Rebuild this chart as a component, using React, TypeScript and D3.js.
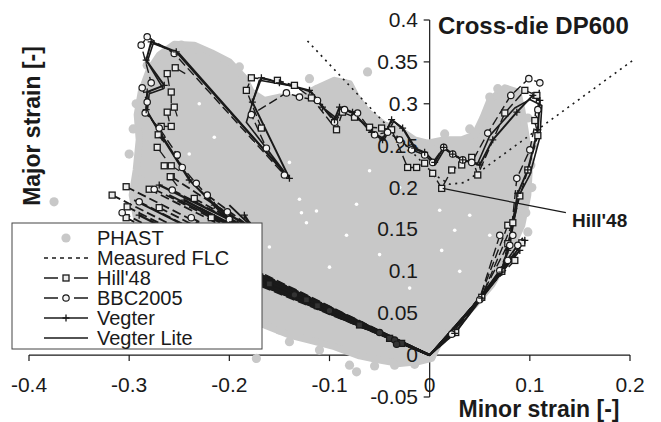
import React from "react";
import * as d3 from "d3";

type P = [number, number];

const W = 661;
const H = 422;

const xTicks = [-0.4, -0.3, -0.2, -0.1, 0, 0.1, 0.2];
const xTickLabels = ["-0.4", "-0.3", "-0.2", "-0.1", "0", "0.1", "0.2"];
const yTicks = [-0.05, 0, 0.05, 0.1, 0.15, 0.2, 0.25, 0.3, 0.35, 0.4];
const yTickLabels = ["-0.05", "0", "0.05", "0.1", "0.15", "0.2", "0.25", "0.3", "0.35", "0.4"];

// PHAST simulated strains: dense cloud outline + isolated points + small gaps inside
const phastOutline: P[] = [
  [-0.28, 0.34], [-0.27, 0.358], [-0.255, 0.371], [-0.235, 0.37], [-0.218, 0.361], [-0.2, 0.35],
  [-0.185, 0.331], [-0.178, 0.314], [-0.165, 0.304], [-0.15, 0.308], [-0.13, 0.307], [-0.112, 0.319],
  [-0.095, 0.328], [-0.08, 0.324], [-0.073, 0.308], [-0.062, 0.29], [-0.045, 0.275], [-0.03, 0.269],
  [-0.015, 0.257], [-0.002, 0.253], [0.015, 0.257], [0.032, 0.257], [0.045, 0.263], [0.053, 0.283],
  [0.06, 0.304], [0.075, 0.319], [0.088, 0.314], [0.092, 0.293], [0.096, 0.263], [0.1, 0.233],
  [0.098, 0.191], [0.092, 0.155], [0.085, 0.137], [0.075, 0.111], [0.062, 0.084], [0.045, 0.06],
  [0.025, 0.036], [0.01, 0.016], [0.002, -0.004], [-0.012, -0.008], [-0.03, -0.01], [-0.05, -0.006],
  [-0.07, -0.001], [-0.095, 0.01], [-0.12, 0.018], [-0.14, 0.024], [-0.165, 0.036], [-0.19, 0.044],
  [-0.23, 0.066], [-0.27, 0.101], [-0.29, 0.137], [-0.292, 0.159], [-0.297, 0.191], [-0.293, 0.221],
  [-0.29, 0.257], [-0.292, 0.287], [-0.288, 0.314],
];
const phastPoints: P[] = [
  [-0.375, 0.183], [-0.248, 0.37], [-0.23, 0.364], [-0.192, 0.338], [-0.107, 0.319], [-0.085, 0.324],
  [0.06, 0.308], [0.098, 0.283], [0.101, 0.227], [0.098, 0.147], [-0.173, -0.004], [-0.14, 0.016],
  [-0.11, 0.006], [-0.08, -0.012], [-0.073, -0.02], [-0.055, -0.013], [-0.035, -0.012], [-0.015, -0.011],
  [-0.288, 0.209], [-0.295, 0.191], [-0.282, 0.346], [-0.165, 0.042], [-0.15, 0.03],
  [-0.062, 0.338], [-0.12, 0.33], [0.068, 0.318], [0.103, 0.25], [0.102, 0.2], [0.096, 0.17],
  [-0.3, 0.24], [-0.296, 0.27], [-0.293, 0.3], [-0.19, 0.344], [0.04, 0.27], [0.015, 0.264],
];
const phastGaps: P[] = [
  [-0.128, 0.17], [-0.123, 0.158], [-0.083, 0.143], [-0.1, 0.105], [-0.16, 0.129], [-0.13, 0.186],
  [-0.113, 0.172], [-0.073, 0.18], [0.01, 0.173], [0.012, 0.125], [0.025, 0.149], [0.04, 0.167],
  [0.06, 0.143], [-0.23, 0.3], [-0.2, 0.29], [-0.215, 0.26], [-0.175, 0.255], [-0.06, 0.22],
  [-0.03, 0.2], [-0.05, 0.12], [-0.02, 0.08], [0.03, 0.1], [-0.14, 0.23], [-0.24, 0.24],
];

const measuredFLC: P[] = [
  [-0.122, 0.375], [-0.023, 0.249], [0.005, 0.215], [0.02, 0.204], [0.035, 0.206], [0.203, 0.352],
];

// Main limit-strain curves (upper zig-zag + right strain path to origin)
const hillCurve: P[] = [
  [-0.168, 0.271], [-0.183, 0.316], [-0.178, 0.331], [-0.152, 0.328], [-0.135, 0.322], [-0.118, 0.307],
  [-0.093, 0.269], [-0.087, 0.29], [-0.075, 0.284], [-0.06, 0.272], [-0.048, 0.271], [-0.038, 0.269],
  [-0.022, 0.224], [-0.013, 0.224], [-0.005, 0.229], [0.003, 0.217], [0.012, 0.199], [0.022, 0.221],
  [0.032, 0.227], [0.042, 0.236], [0.048, 0.215], [0.075, 0.289], [0.095, 0.316], [0.107, 0.31],
  [0.105, 0.28], [0.108, 0.262], [0.098, 0.221], [0.09, 0.19], [0.078, 0.133], [0.072, 0.1],
  [0.052, 0.069], [0.026, 0.027], [0, 0],
];
const bbcCurve: P[] = [
  [-0.19, 0.135], [-0.2, 0.162], [-0.233, 0.205], [-0.247, 0.224], [-0.252, 0.239], [-0.27, 0.271],
  [-0.284, 0.289], [-0.282, 0.302], [-0.287, 0.319], [-0.278, 0.325], [-0.288, 0.37], [-0.282, 0.38],
  [-0.255, 0.36], [-0.145, 0.215], [-0.163, 0.247], [-0.178, 0.287], [-0.143, 0.313], [-0.13, 0.308],
  [-0.112, 0.304], [-0.095, 0.278], [-0.085, 0.293], [-0.072, 0.289], [-0.055, 0.263], [-0.042, 0.266],
  [-0.03, 0.257], [-0.018, 0.245], [-0.005, 0.239], [0.003, 0.23], [0.014, 0.248], [0.023, 0.24],
  [0.033, 0.233], [0.042, 0.23], [0.058, 0.265], [0.081, 0.31], [0.099, 0.33], [0.11, 0.325],
  [0.108, 0.293], [0.1, 0.245], [0.087, 0.211], [0.08, 0.131], [0.07, 0.101], [0.05, 0.066],
  [0.022, 0.025], [0, 0],
];
const vegterCurve: P[] = [
  [-0.19, 0.13], [-0.197, 0.159], [-0.24, 0.209], [-0.267, 0.26], [-0.283, 0.293], [-0.282, 0.314],
  [-0.265, 0.322], [-0.283, 0.352], [-0.278, 0.374], [-0.253, 0.362], [-0.14, 0.211], [-0.177, 0.302],
  [-0.168, 0.331], [-0.15, 0.325], [-0.12, 0.316], [-0.107, 0.296], [-0.095, 0.281], [-0.09, 0.296],
  [-0.077, 0.29], [-0.058, 0.266], [-0.047, 0.257], [-0.038, 0.281], [-0.027, 0.271], [-0.015, 0.247],
  [-0.005, 0.242], [0.005, 0.23], [0.014, 0.248], [0.023, 0.24], [0.033, 0.233], [0.05, 0.227],
  [0.063, 0.257], [0.087, 0.29], [0.103, 0.31], [0.11, 0.304], [0.108, 0.269], [0.098, 0.221],
  [0.088, 0.193], [0.078, 0.125], [0.072, 0.099], [0.052, 0.068], [0.025, 0.026], [0, 0],
];
const liteCurve: P[] = [
  [-0.19, 0.128], [-0.198, 0.157], [-0.238, 0.207], [-0.265, 0.258], [-0.282, 0.29], [-0.28, 0.312],
  [-0.266, 0.318], [-0.282, 0.35], [-0.276, 0.372], [-0.25, 0.36], [-0.142, 0.214], [-0.183, 0.278],
  [-0.17, 0.328], [-0.14, 0.322], [-0.118, 0.314], [-0.105, 0.294], [-0.093, 0.283], [-0.088, 0.294],
  [-0.075, 0.288], [-0.06, 0.268], [-0.045, 0.258], [-0.036, 0.279], [-0.025, 0.268], [-0.013, 0.245],
  [-0.003, 0.24], [0.006, 0.228], [0.015, 0.246], [0.025, 0.238], [0.035, 0.232], [0.048, 0.229],
  [0.06, 0.262], [0.085, 0.295], [0.1, 0.305], [0.112, 0.298], [0.11, 0.26], [0.1, 0.215],
  [0.089, 0.19], [0.079, 0.127], [0.071, 0.1], [0.05, 0.07], [0.024, 0.028], [0, 0],
];

// Strain paths of the draw-in region (limit point, tail, band point) -> origin
const hillFan: P[][] = [
  [[-0.317, 0.191], [-0.237, 0.143], [-0.18, 0.1]],
  [[-0.303, 0.201], [-0.207, 0.143], [-0.18, 0.094]],
  [[-0.302, 0.177], [-0.246, 0.143], [-0.18, 0.104]],
  [[-0.303, 0.164], [-0.269, 0.143], [-0.18, 0.089]],
  [[-0.28, 0.198], [-0.188, 0.143], [-0.18, 0.097]],
  [[-0.27, 0.176], [-0.216, 0.143], [-0.18, 0.092]],
  [[-0.235, 0.187], [-0.175, 0.147], [-0.18, 0.102]],
  [[-0.218, 0.164], [-0.188, 0.143], [-0.18, 0.095]],
  [[-0.258, 0.213], [-0.175, 0.149], [-0.18, 0.099]],
];
const bbcFan: P[][] = [
  [[-0.29, 0.183], [-0.224, 0.143], [-0.18, 0.096]],
  [[-0.275, 0.198], [-0.183, 0.143], [-0.18, 0.09]],
  [[-0.257, 0.197], [-0.175, 0.147], [-0.18, 0.103]],
  [[-0.238, 0.164], [-0.204, 0.143], [-0.18, 0.088]],
  [[-0.222, 0.191], [-0.175, 0.149], [-0.18, 0.1]],
  [[-0.202, 0.171], [-0.178, 0.143], [-0.18, 0.093]],
  [[-0.307, 0.17], [-0.263, 0.143], [-0.18, 0.105]],
];
const vegterFan: P[][] = [
  [[-0.27, 0.203], [-0.175, 0.147], [-0.18, 0.095]],
  [[-0.245, 0.185], [-0.185, 0.147], [-0.18, 0.09]],
  [[-0.215, 0.179], [-0.175, 0.149], [-0.18, 0.101]],
  [[-0.185, 0.167], [-0.172, 0.143], [-0.18, 0.093]],
  [[-0.29, 0.167], [-0.25, 0.143], [-0.18, 0.098]],
];
const liteFan: P[][] = [
  [[-0.295, 0.185], [-0.225, 0.143], [-0.18, 0.094]],
  [[-0.26, 0.191], [-0.18, 0.143], [-0.18, 0.099]],
  [[-0.23, 0.176], [-0.176, 0.143], [-0.18, 0.091]],
  [[-0.2, 0.179], [-0.172, 0.147], [-0.18, 0.096]],
  [[-0.18, 0.159], [-0.172, 0.14], [-0.18, 0.102]],
];

// limit points lying on the draw-in band
const hillBand: P[] = [[-0.123, 0.066], [-0.112, 0.059], [-0.07, 0.036], [-0.04, 0.02], [-0.028, 0.014], [-0.16, 0.085]];
const bbcBand: P[] = [[-0.135, 0.072], [-0.1, 0.053], [-0.05, 0.027], [-0.035, 0.018], [-0.033, 0.013]];

// Hill'48 limit points on the flange edge with their strain-path tails
const hillTails: P[][] = [
  [[-0.254, 0.343], [-0.244, 0.336]],
  [[-0.262, 0.336], [-0.26, 0.321]],
  [[-0.258, 0.314], [-0.258, 0.301]],
  [[-0.255, 0.296], [-0.252, 0.285]],
  [[-0.262, 0.29], [-0.26, 0.279]],
  [[-0.268, 0.273], [-0.262, 0.273]],
  [[-0.258, 0.273], [-0.262, 0.273]],
  [[-0.271, 0.263], [-0.265, 0.254]],
  [[-0.272, 0.248], [-0.264, 0.235]],
  [[-0.265, 0.226], [-0.258, 0.227]],
  [[-0.258, 0.226], [-0.25, 0.22]],
  [[-0.259, 0.213], [-0.252, 0.202]],
];

// Right-side (biaxial) strain paths: limit point, knee -> origin
const hillRight: P[][] = [
  [[0.078, 0.155], [0.05, 0.068]], [[0.083, 0.158], [0.052, 0.07]],
  [[0.092, 0.134], [0.05, 0.066]], [[0.085, 0.113], [0.048, 0.066]],
];
const bbcRight: P[][] = [
  [[0.07, 0.143], [0.05, 0.068]], [[0.083, 0.143], [0.05, 0.067]],
  [[0.078, 0.113], [0.05, 0.068]], [[0.088, 0.131], [0.052, 0.069]],
];
const vegterRight: P[][] = [[[0.095, 0.137], [0.051, 0.068]], [[0.09, 0.125], [0.05, 0.067]]];
const liteRight: P[][] = [[[0.093, 0.14], [0.05, 0.068]], [[0.086, 0.12], [0.05, 0.066]]];

const origin: P = [0, 0];
const annotationLine: P[] = [[0.013, 0.199], [0.136, 0.17]];

const FONT = "'Liberation Sans', Arial, Helvetica, sans-serif";
const INK = "#1a1a1a";
const GRAY = "#c8c8c8";

const x = d3.scaleLinear().domain([-0.4, 0.2]).range([29, 630]);
const y = d3.scaleLinear().domain([-0.05, 0.4]).range([397, 20]);
const line = d3.line<P>().x((d) => x(d[0])).y((d) => y(d[1]));

type Kind = "square" | "circle" | "plus" | "none";

function Marker({ p, kind, px, py, dark }: { p?: P; kind: Kind; px?: number; py?: number; dark?: boolean }) {
  const cx = p ? x(p[0]) : (px as number);
  const cy = p ? y(p[1]) : (py as number);
  const fill = dark ? "#333" : kind === "square" ? "#ececec" : "#f4f4f4";
  if (kind === "square")
    return <rect x={cx - 3} y={cy - 3} width={6} height={6} fill={fill} stroke={INK} strokeWidth={1.3} />;
  if (kind === "circle")
    return <circle cx={cx} cy={cy} r={3.2} fill={fill} stroke={INK} strokeWidth={1.2} />;
  if (kind === "plus")
    return (
      <path d={`M${cx - 3.5},${cy}H${cx + 3.5}M${cx},${cy - 3.5}V${cy + 3.5}`} stroke={INK} strokeWidth={1.3} />
    );
  return null;
}

type Series = {
  curve: P[];
  fan: P[][];
  right: P[][];
  band: P[];
  kind: Kind;
  dash?: string;
  width: number;
};

const seriesList: Series[] = [
  { curve: hillCurve, fan: hillFan, right: hillRight, band: hillBand, kind: "square", dash: "9,4", width: 1.4 },
  { curve: bbcCurve, fan: bbcFan, right: bbcRight, band: bbcBand, kind: "circle", dash: "9,4", width: 1.4 },
  { curve: liteCurve, fan: liteFan, right: liteRight, band: [], kind: "none", width: 1.6 },
  { curve: vegterCurve, fan: vegterFan, right: vegterRight, band: [], kind: "plus", width: 2 },
];

export default function App() {
  const outlinePath = line(phastOutline) + "Z";
  return (
    <div style={{ position: "fixed", left: 0, top: 0 }}>
      <svg width={W} height={H} style={{ display: "block", background: "#fff" }} fontFamily={FONT}>
        {/* axes lines and ticks */}
        <line x1={x(-0.4)} x2={x(0.2)} y1={y(0)} y2={y(0)} stroke={INK} strokeWidth={1.2} />
        {xTicks.map((t) => (
          <line key={"xt" + t} x1={x(t)} x2={x(t)} y1={y(0)} y2={y(0) + 6} stroke={INK} strokeWidth={1.2} />
        ))}
        <line x1={x(0)} x2={x(0)} y1={y(0.4)} y2={y(-0.05)} stroke={INK} strokeWidth={1.2} />
        {yTicks.map((t) => (
          <line key={"yt" + t} x1={x(0) - 6} x2={x(0)} y1={y(t)} y2={y(t)} stroke={INK} strokeWidth={1.2} />
        ))}

        {/* PHAST cloud */}
        <path d={outlinePath} fill={GRAY} stroke={GRAY} strokeWidth={7} strokeLinejoin="round" />
        {phastPoints.map((p, i) => (
          <circle key={"ph" + i} cx={x(p[0])} cy={y(p[1])} r={4.6} fill={GRAY} />
        ))}
        {phastGaps.map((p, i) => (
          <circle key={"gp" + i} cx={x(p[0])} cy={y(p[1])} r={1.8} fill="#fff" />
        ))}

        {/* tick labels */}
        {xTicks.map((t, i) => (
          <text key={"xl" + t} x={x(t)} y={392} fontSize={21} textAnchor="middle" fill={INK}>
            {xTickLabels[i]}
          </text>
        ))}
        {yTicks.map((t, i) => (
          <text key={"yl" + t} x={418} y={y(t) + 7} fontSize={21} textAnchor="end" fill={INK}>
            {yTickLabels[i]}
          </text>
        ))}

        {/* measured FLC */}
        <path d={line(measuredFLC) || ""} fill="none" stroke={INK} strokeWidth={1.6} strokeDasharray="2,4.5" />

        {/* model series */}
        {seriesList.map((s, si) => (
          <g key={"s" + si}>
            {s.fan.map((f, i) => (
              <path key={"f" + i} d={line([...f, origin]) || ""} fill="none" stroke={INK}
                strokeWidth={s.width + 0.4} strokeDasharray={s.dash} />
            ))}
            {s.right.map((f, i) => (
              <path key={"r" + i} d={line([...f, origin]) || ""} fill="none" stroke={INK}
                strokeWidth={s.width} strokeDasharray={s.dash} />
            ))}
            <path d={line(s.curve) || ""} fill="none" stroke={INK} strokeWidth={s.width}
              strokeDasharray={s.dash} strokeLinejoin="round" />
            {si === 0 &&
              hillTails.map((t, i) => (
                <path key={"t" + i} d={line(t) || ""} fill="none" stroke={INK} strokeWidth={1.3} />
              ))}
          </g>
        ))}
        {seriesList.map((s, si) => (
          <g key={"m" + si}>
            {s.curve.slice(0, -1).map((p, i) => <Marker key={"c" + i} p={p} kind={s.kind} />)}
            {s.fan.map((f, i) => <Marker key={"fm" + i} p={f[0]} kind={s.kind} />)}
            {s.right.map((f, i) => <Marker key={"rm" + i} p={f[0]} kind={s.kind} />)}
            {s.band.map((p, i) => <Marker key={"bm" + i} p={p} kind={s.kind} dark />)}
            {si === 0 && hillTails.map((t, i) => <Marker key={"tm" + i} p={t[0]} kind="square" />)}
          </g>
        ))}

        {/* Hill'48 annotation */}
        <path d={line(annotationLine) || ""} stroke={INK} strokeWidth={1.2} fill="none" />
        <text x={572} y={227} fontSize={19} fontWeight="bold" fill={INK}>Hill'48</text>

        {/* titles */}
        <text x={438} y={34} fontSize={24} fontWeight="bold" fill={INK}>Cross-die DP600</text>
        <text x={539} y={417} fontSize={23} fontWeight="bold" textAnchor="middle" fill={INK}>Minor strain [-]</text>
        <text transform="translate(40,126) rotate(-90)" fontSize={23} fontWeight="bold" textAnchor="middle" fill={INK}>
          Major strain [-]
        </text>

        {/* legend */}
        <g>
          <rect x={12} y={223} width={250} height={126} fill="#fff" stroke="#444" strokeWidth={1} />
          <circle cx={66} cy={238} r={4.6} fill={GRAY} />
          <text x={97} y={245} fontSize={20} fill={INK}>PHAST</text>
          <line x1={44} x2={88} y1={258} y2={258} stroke={INK} strokeWidth={1.6} strokeDasharray="4,4" />
          <text x={97} y={265} fontSize={20} fill={INK}>Measured FLC</text>
          <line x1={44} x2={88} y1={278} y2={278} stroke={INK} strokeWidth={1.5} strokeDasharray="14,16" />
          <Marker kind="square" px={66} py={278} />
          <text x={97} y={285} fontSize={20} fill={INK}>Hill'48</text>
          <line x1={44} x2={88} y1={298} y2={298} stroke={INK} strokeWidth={1.5} strokeDasharray="14,16" />
          <Marker kind="circle" px={66} py={298} />
          <text x={97} y={305} fontSize={20} fill={INK}>BBC2005</text>
          <line x1={44} x2={88} y1={318} y2={318} stroke={INK} strokeWidth={1.5} />
          <Marker kind="plus" px={66} py={318} />
          <text x={97} y={325} fontSize={20} fill={INK}>Vegter</text>
          <line x1={44} x2={88} y1={338} y2={338} stroke={INK} strokeWidth={1.5} />
          <text x={97} y={345} fontSize={20} fill={INK}>Vegter Lite</text>
        </g>
      </svg>
    </div>
  );
}
